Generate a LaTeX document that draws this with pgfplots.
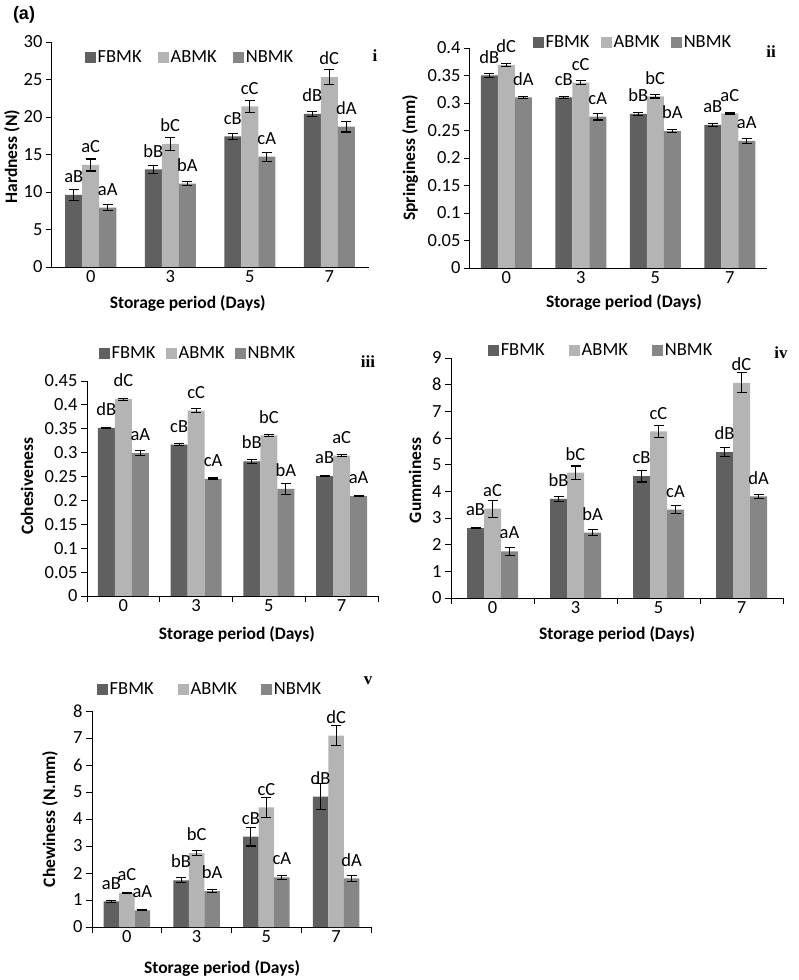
\documentclass[border=0pt]{standalone}
\usepackage{fontspec}
\setmainfont{Carlito}
\newfontfamily\timesf{Liberation Serif}
\newfontfamily\arialf{Liberation Sans}
\usepackage{pgfplots}
\usepackage{pgfplotstable}
\pgfplotsset{compat=1.18}

\definecolor{cF}{RGB}{96,96,96}
\definecolor{cA}{RGB}{180,180,180}
\definecolor{cN}{RGB}{134,134,134}

\newcommand{\fs}{\fontsize{18.5}{21}\selectfont}
\newcommand{\fl}{\fontsize{17.5}{20}\selectfont\bfseries}
\newcommand{\fr}{\fontsize{17}{20}\selectfont\timesf\bfseries}

% x, bar height, error, letter label for FBMK / ABMK / NBMK
\pgfplotstableread{
x F Fe Fl A Ae Al N Ne Nl
0 9.6 0.7 aB 13.6 0.8 aC 7.9 0.4 aA
1 13.0 0.5 bB 16.4 0.9 bC 11.1 0.27 bA
2 17.4 0.4 cB 21.4 0.75 cC 14.7 0.6 cA
3 20.4 0.35 dB 25.3 1.0 dC 18.7 0.7 dA
}\tabi
\pgfplotstableread{
x F Fe Fl A Ae Al N Ne Nl
0 0.350 0.004 dB 0.369 0.002 dC 0.310 0.002 dA
1 0.310 0.002 cB 0.337 0.004 cC 0.275 0.006 cA
2 0.280 0.003 bB 0.312 0.003 bC 0.249 0.002 bA
3 0.260 0.002 aB 0.281 0.001 aC 0.231 0.004 aA
}\tabii
\pgfplotstableread{
x F Fe Fl A Ae Al N Ne Nl
0 0.352 0.001 dB 0.412 0.002 dC 0.299 0.005 aA
1 0.317 0.002 cB 0.388 0.004 cC 0.245 0.002 cA
2 0.282 0.004 bB 0.336 0.002 bC 0.224 0.012 bA
3 0.251 0.001 aB 0.294 0.002 aC 0.209 0.001 aA
}\tabiii
\pgfplotstableread{
x F Fe Fl A Ae Al N Ne Nl
0 2.62 0.02 aB 3.35 0.32 aC 1.75 0.15 aA
1 3.72 0.10 bB 4.70 0.25 bC 2.45 0.12 bA
2 4.57 0.22 cB 6.25 0.22 cC 3.31 0.15 cA
3 5.47 0.17 dB 8.07 0.37 dC 3.81 0.08 dA
}\tabiv
\pgfplotstableread{
x F Fe Fl A Ae Al N Ne Nl
0 0.95 0.03 aB 1.26 0.01 aC 0.62 0.01 aA
1 1.73 0.09 bB 2.74 0.10 bC 1.33 0.06 bA
2 3.35 0.35 cB 4.43 0.37 cC 1.84 0.08 cA
3 4.83 0.47 dB 7.09 0.38 dC 1.80 0.10 dA
}\tabv

\pgfplotsset{
  sqlegend/.style={legend image code/.code={\fill[##1] (0pt,-5.5pt) rectangle (11pt,5.5pt);}},
  panel/.style={
    scale only axis, anchor=south west,
    ybar=0pt, bar width=17pt,
    xmin=-0.5, xmax=3.5, ymin=0,
    axis x line*=bottom, axis y line*=left,
    axis line style={-, black, line width=0.9pt},
    tick align=outside, major tick length=5pt,
    tick style={black, line width=0.9pt},
    tick label style={font=\fs},
    /pgf/number format/assume math mode=true,
    label style={font=\fl},
    xtick=\empty,
    extra x ticks={0,1,2,3}, extra x tick labels={0,3,5,7},
    extra x tick style={major tick length=0pt},
    point meta=explicit symbolic,
    nodes near coords,
    every node near coord/.append style={font=\fs, black, anchor=south, inner sep=0pt, yshift=12pt},
    error bars/y dir=both, error bars/y explicit,
    error bars/error bar style={black, line width=1.1pt},
    error bars/error mark options={rotate=90, black, line width=1.1pt, mark size=5pt},
    legend columns=3,
    legend style={draw=none, fill=none, font=\fs, anchor=center,
      nodes={inner sep=2pt}},
    every axis plot post/.append style={sqlegend},
  },
  ticked/.style={xtick={-0.5,0.5,1.5,2.5,3.5}, xticklabels={}, major tick length=6pt},
}

\newcommand{\bars}[1]{%
  \addplot[fill=cF, draw=none] table[x=x, y=F, y error=Fe, meta=Fl] {#1};
  \addplot[fill=cA, draw=none] table[x=x, y=A, y error=Ae, meta=Al] {#1};
  \addplot[fill=cN, draw=none] table[x=x, y=N, y error=Ne, meta=Nl] {#1};
  \legend{FBMK,ABMK,NBMK}}

\begin{document}
\begin{tikzpicture}
\useasboundingbox (0,0) rectangle (798pt,980pt);

% (i) hardness
\begin{axis}[panel, at={(51pt,713pt)}, width=318pt, height=225pt,
  ymax=30, ytick={0,5,10,15,20,25,30},
  ylabel={Hardness (N)}, xlabel={Storage period (Days)},
  ylabel style={at={(axis description cs:-0.123,0.49)}, anchor=center},
  xlabel style={at={(axis description cs:0.43,-0.16)}, anchor=center},
  legend style={at={(0.437,0.933)}, /tikz/every even column/.append style={column sep=14pt}}]
\bars{\tabi}
\end{axis}

% (ii) springiness
\begin{axis}[panel, at={(469pt,712pt)}, width=298pt, height=220pt,
  ymax=0.4, ytick={0,0.05,0.1,0.15,0.2,0.25,0.3,0.35,0.4},
  yticklabels={0,0.05,0.1,0.15,0.2,0.25,0.3,0.35,0.4},
  ylabel={Springiness (mm)}, xlabel={Storage period (Days)},
  ylabel style={at={(axis description cs:-0.198,0.5)}, anchor=center},
  xlabel style={at={(axis description cs:0.52,-0.159)}, anchor=center},
  legend style={at={(0.55,1.027)}, /tikz/every even column/.append style={column sep=9pt}}]
\bars{\tabii}
\end{axis}

% (iii) cohesiveness
\begin{axis}[panel, ticked, at={(87pt,384pt)}, width=291pt, height=215pt,
  ymax=0.45, ytick={0,0.05,0.1,0.15,0.2,0.25,0.3,0.35,0.4,0.45},
  yticklabels={0,0.05,0.1,0.15,0.2,0.25,0.3,0.35,0.4,0.45},
  ylabel={Cohesiveness}, xlabel={Storage period (Days)},
  ylabel style={at={(axis description cs:-0.206,0.51)}, anchor=center},
  xlabel style={at={(axis description cs:0.515,-0.181)}, anchor=center},
  legend style={at={(0.381,1.13)}, /tikz/every even column/.append style={column sep=8pt}}]
\bars{\tabiii}
\end{axis}

% (iv) gumminess
\begin{axis}[panel, ticked, at={(451pt,382pt)}, width=332pt, height=240pt,
  ymax=9, ytick={0,1,2,3,4,5,6,7,8,9},
  ylabel={Gumminess}, xlabel={Storage period (Days)},
  ylabel style={at={(axis description cs:-0.108,0.49)}, anchor=center},
  xlabel style={at={(axis description cs:0.5,-0.15)}, anchor=center},
  legend style={at={(0.452,1.033)}, /tikz/every even column/.append style={column sep=22pt}}]
\bars{\tabiv}
\end{axis}

% (v) chewiness
\begin{axis}[panel, ticked, at={(92pt,53pt)}, width=279pt, height=216pt, bar width=15.5pt,
  ymax=8, ytick={0,1,2,3,4,5,6,7,8},
  ylabel={Chewiness (N.mm)}, xlabel={Storage period (Days)},
  ylabel style={at={(axis description cs:-0.151,0.5)}, anchor=center},
  xlabel style={at={(axis description cs:0.466,-0.19)}, anchor=center},
  legend style={at={(0.423,1.10)}, /tikz/every even column/.append style={column sep=22pt}}]
\bars{\tabv}
\end{axis}

\node[font=\fontsize{18}{20}\selectfont\arialf\bfseries] at (24pt,965pt) {(a)};
\node[font=\fr] at (375pt,924pt) {i};
\node[font=\fr] at (771pt,928pt) {ii};
\node[font=\fr] at (368pt,618pt) {iii};
\node[font=\fr] at (781pt,627pt) {iv};
\node[font=\fr] at (368pt,299pt) {v};
\end{tikzpicture}
\end{document}
